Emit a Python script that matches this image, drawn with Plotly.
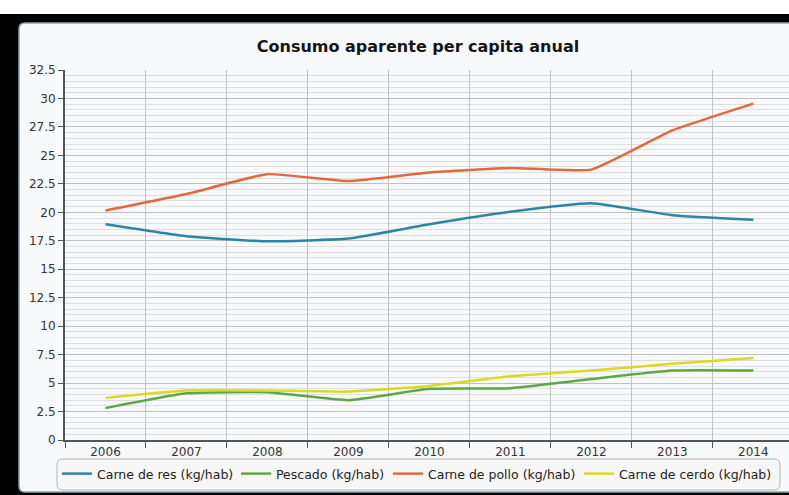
import plotly.graph_objects as go

years = ["2006", "2007", "2008", "2009", "2010", "2011", "2012", "2013", "2014"]
res = [18.95, 17.9, 17.45, 17.7, 18.95, 20.05, 20.8, 19.75, 19.35]
pescado = [2.8, 4.1, 4.2, 3.5, 4.5, 4.55, 5.35, 6.1, 6.1]
pollo = [20.15, 21.6, 23.35, 22.75, 23.5, 23.9, 23.75, 27.2, 29.55]
cerdo = [3.7, 4.35, 4.35, 4.25, 4.75, 5.6, 6.1, 6.7, 7.2]

series = [
    ("Carne de res (kg/hab)", res, "#2a86a8"),
    ("Pescado (kg/hab)", pescado, "#5ea844"),
    ("Carne de pollo (kg/hab)", pollo, "#df6a3c"),
    ("Carne de cerdo (kg/hab)", cerdo, "#dada26"),
]
legend_left_px = [57, 236, 388, 579]

W, H = 789, 495
L, R, T, B = 65, 789, 70, 440
FONT = "DejaVu Sans"


def px(x):
    return (x - L) / (R - L)


def py(y):
    return (B - y) / (B - T)


def rrect(x0, y0, x1, y1, r):
    rx = r / (R - L)
    ry = r / (B - T)
    X0, X1 = px(x0), px(x1)
    Y0, Y1 = py(y0), py(y1)
    return (f"M{X0+rx},{Y0} L{X1-rx},{Y0} Q{X1},{Y0} {X1},{Y0-ry} "
            f"L{X1},{Y1+ry} Q{X1},{Y1} {X1-rx},{Y1} L{X0+rx},{Y1} "
            f"Q{X0},{Y1} {X0},{Y1+ry} L{X0},{Y0-ry} Q{X0},{Y0} {X0+rx},{Y0} Z")


fig = go.Figure()
legend_layouts = {}
for i, (name, vals, col) in enumerate(series):
    lname = "legend" if i == 0 else f"legend{i+1}"
    fig.add_trace(go.Scatter(
        x=years, y=vals, name=name, mode="lines", legend=lname,
        line=dict(color=col, width=2.5, shape="spline", smoothing=0.4),
    ))
    legend_layouts[lname] = dict(
        orientation="h", x=px(legend_left_px[i]), xanchor="left",
        y=py(474), yanchor="middle", bgcolor="rgba(0,0,0,0)", borderwidth=0,
        font=dict(family=FONT, size=12.5, color="#222222"), itemwidth=30,
    )

shapes = [
    dict(type="rect", xref="paper", yref="paper", x0=px(0), x1=px(789), y0=py(14), y1=py(495),
         fillcolor="#000000", line=dict(width=0), layer="below"),
    dict(type="path", xref="paper", yref="paper", path=rrect(19, 23, 800, 492, 6),
         fillcolor="#f8f9fb", line=dict(color="#8ba4ae", width=1.5), layer="below"),
    dict(type="path", xref="paper", yref="paper", path=rrect(57, 459, 780, 490, 6),
         fillcolor="#f7f7f7", line=dict(color="#b4b4b4", width=1), layer="below"),
]

fig.update_layout(
    width=W, height=H,
    margin=dict(l=L, r=W - R, t=T, b=H - B),
    paper_bgcolor="#ffffff",
    plot_bgcolor="#ffffff",
    shapes=shapes,
    font=dict(family=FONT, size=12, color="#333333"),
    title=dict(text="Consumo aparente per capita anual", x=418 / W, xanchor="center",
               xref="container", yref="container", y=1 - 46 / H, yanchor="middle",
               font=dict(family=FONT, size=16, color="#151515", weight="bold")),
    showlegend=True,
    xaxis=dict(type="category", tickson="boundaries", range=[-0.5, 8.44],
               showgrid=True, gridcolor="#c2c2c2", gridwidth=1,
               showline=True, linecolor="#555555", linewidth=2,
               ticks="outside", ticklen=6, tickcolor="#555555",
               tickfont=dict(family=FONT, size=12, color="#333333")),
    yaxis=dict(range=[0, 32.5], tick0=0, dtick=2.5, zeroline=False,
               showgrid=True, gridcolor="#c0c0c0", gridwidth=1,
               minor=dict(dtick=0.5, showgrid=True, gridcolor="#dedede", ticks=""),
               showline=True, linecolor="#555555", linewidth=2,
               ticks="outside", ticklen=5, tickcolor="#555555",
               tickfont=dict(family=FONT, size=12, color="#333333")),
    **legend_layouts,
)

fig.write_html("out.html")
